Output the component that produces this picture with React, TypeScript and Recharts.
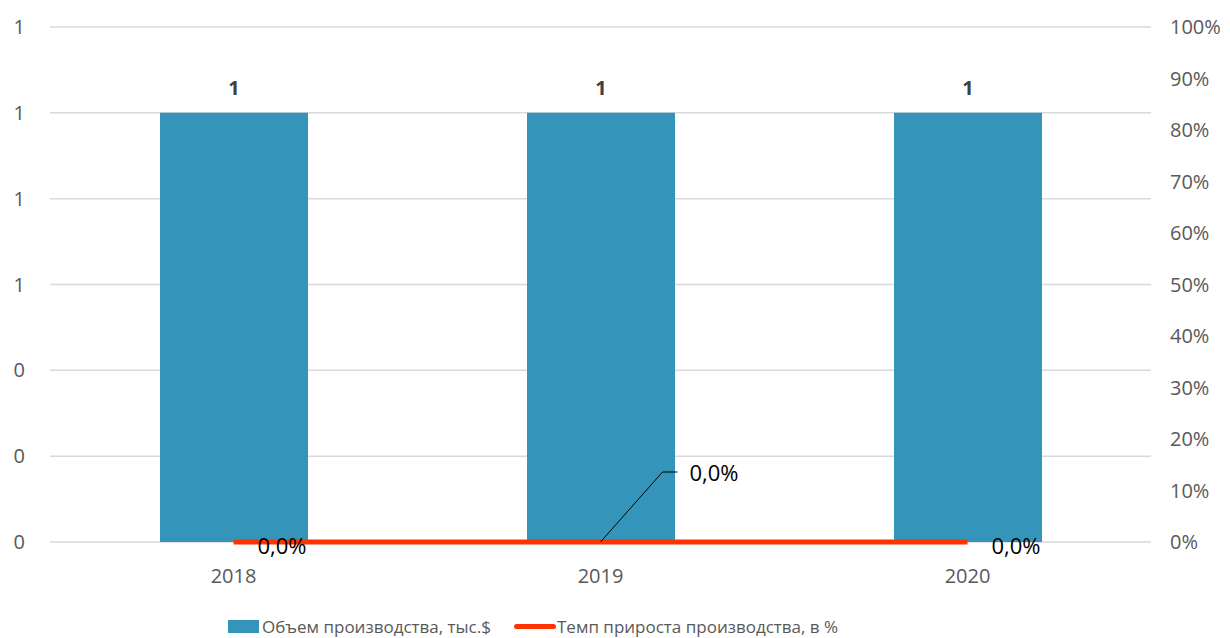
import React from 'react';
import { ComposedChart, Bar, Line, XAxis, YAxis, CartesianGrid, LabelList } from 'recharts';

const years = ['2018', '2019', '2020'];
const volume = [1, 1, 1];
const growth = [0, 0, 0];
const leftTicks = [0, 0.2, 0.4, 0.6, 0.8, 1.0, 1.2];
const rightTicks = [0, 0.1, 0.2, 0.3, 0.4, 0.5, 0.6, 0.7, 0.8, 0.9, 1.0];

const data = years.map((year, i) => ({ year, volume: volume[i], growth: growth[i] }));

const FONT = '"Open Sans", sans-serif';
const BLUE = '#3494BA';
const RED = '#FF3300';

const pct = (v: number) => (v * 100).toFixed(1).replace('.', ',') + '%';

const LineLabel = (props: any) => {
    const { x, y, value, index } = props;
    if (x == null || y == null) return null;
    if (index === 1) {
        return (
            <g>
                <polyline points={`${x},${y} ${x + 62},${y - 70} ${x + 77},${y - 70}`} fill="none" stroke="#000" strokeWidth={1} />
                <text x={x + 89} y={y - 70} dominantBaseline="central" fontSize={22} fontFamily={FONT} fill="#000">{pct(value)}</text>
            </g>
        );
    }
    return (
        <text x={x + 24} y={y + 3} dominantBaseline="central" fontSize={22} fontFamily={FONT} fill="#000">{pct(value)}</text>
    );
};

const App: React.FC = () => {
    return (
        <div style={{ position: 'absolute', left: 0, top: 0, width: 1230, height: 638, background: '#fff', fontFamily: FONT }}>
            <ComposedChart width={1230} height={638} data={data} margin={{ top: 27, right: 0, left: 0, bottom: 0 }}>
                <CartesianGrid yAxisId="left" vertical={false} stroke="#d9d9d9" strokeWidth={1.5} />
                <XAxis
                    dataKey="year"
                    height={96}
                    axisLine={false}
                    tickLine={false}
                    tickSize={0}
                    tickMargin={27}
                    tick={{ fill: '#595959', fontSize: 20, fontFamily: FONT }}
                />
                <YAxis
                    yAxisId="left"
                    width={50}
                    domain={[0, 1.2]}
                    ticks={leftTicks}
                    tickFormatter={(v: number) => v.toFixed(0)}
                    axisLine={false}
                    tickLine={false}
                    tickSize={0}
                    tickMargin={25}
                    tick={{ fill: '#595959', fontSize: 20, fontFamily: FONT }}
                />
                <YAxis
                    yAxisId="right"
                    orientation="right"
                    width={79}
                    domain={[0, 1]}
                    ticks={rightTicks}
                    tickFormatter={(v: number) => Math.round(v * 100) + '%'}
                    axisLine={false}
                    tickLine={false}
                    tickSize={0}
                    tickMargin={19}
                    tick={{ fill: '#595959', fontSize: 20, fontFamily: FONT, textAnchor: 'start' }}
                />
                <Bar yAxisId="left" dataKey="volume" fill={BLUE} barSize={148} isAnimationActive={false}>
                    <LabelList
                        dataKey="volume"
                        position="top"
                        offset={18}
                        formatter={(v: any) => Number(v).toFixed(0)}
                        style={{ fill: '#404040', fontSize: 20, fontWeight: 'bold', fontFamily: FONT }}
                    />
                </Bar>
                <Line
                    yAxisId="right"
                    dataKey="growth"
                    stroke={RED}
                    strokeWidth={5}
                    dot={false}
                    activeDot={false}
                    isAnimationActive={false}
                    label={<LineLabel />}
                />
            </ComposedChart>
            <div style={{ position: 'absolute', left: 228, top: 620, width: 31, height: 13, background: BLUE }} />
            <div style={{ position: 'absolute', left: 262, top: 614, fontSize: 17, lineHeight: '26px', color: '#595959', whiteSpace: 'nowrap' }}>
                Объем производства, тыс.$
            </div>
            <div style={{ position: 'absolute', left: 514, top: 624, width: 42, height: 5, borderRadius: 3, background: RED }} />
            <div style={{ position: 'absolute', left: 557, top: 614, fontSize: 17, lineHeight: '26px', color: '#595959', whiteSpace: 'nowrap' }}>
                Темп прироста производства, в %
            </div>
        </div>
    );
};

export default App;
